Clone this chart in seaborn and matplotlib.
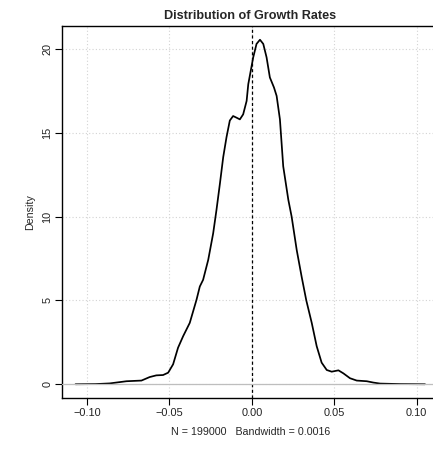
import matplotlib
matplotlib.use("Agg")
import matplotlib.pyplot as plt
import seaborn as sns
import pandas as pd

# density estimate (growth rate vs density)
growth = [-0.107, -0.095, -0.0863, -0.0761, -0.067, -0.062, -0.058, -0.0539,
          -0.0508, -0.0478, -0.0448, -0.0417, -0.0377, -0.0336, -0.0316,
          -0.0296, -0.0265, -0.0235, -0.0215, -0.0194, -0.0174, -0.0154,
          -0.0134, -0.0114, -0.0093, -0.0073, -0.0053, -0.0032, -0.0022,
          0.0008, 0.0028, 0.0049, 0.0069, 0.0089, 0.0109, 0.0134, 0.0150,
          0.0170, 0.0190, 0.0221, 0.0241, 0.0272, 0.0302, 0.0330, 0.0363,
          0.0393, 0.0423, 0.0454, 0.0484, 0.0525, 0.0555, 0.0595, 0.0636,
          0.0697, 0.0737, 0.0778, 0.0900, 0.1050]
density = [0.0, 0.01, 0.05, 0.18, 0.22, 0.43, 0.53, 0.55,
           0.69, 1.19, 2.18, 2.87, 3.66, 5.04, 5.83,
           6.23, 7.42, 9.0, 10.39, 11.97, 13.55, 14.74,
           15.73, 16.0, 15.9, 15.8, 16.1, 16.9, 17.9,
           19.5, 20.3, 20.55, 20.3, 19.5, 18.3, 17.7, 17.2,
           15.8, 13.0, 11.0, 10.0, 8.0, 6.4, 5.0, 3.66,
           2.27, 1.29, 0.85, 0.75, 0.83, 0.65, 0.36, 0.22,
           0.18, 0.1, 0.04, 0.01, 0.0]

x_ticks = [-0.10, -0.05, 0.00, 0.05, 0.10]
x_tick_labels = ["\u22120.10", "\u22120.05", "0.00", "0.05", "0.10"]
y_ticks = [0, 5, 10, 15, 20]

df = pd.DataFrame({"growth": growth, "density": density})

sns.set_theme(style="white")
plt.rcParams["font.family"] = ["Liberation Sans", "DejaVu Sans"]

fig = plt.figure(figsize=(4.33, 4.49), dpi=100)
ax = fig.add_axes([62 / 433, 1 - 398 / 449, (439 - 62) / 433, (398 - 26) / 449])

sns.lineplot(data=df, x="growth", y="density", ax=ax, color="black",
             linewidth=1.25, sort=False, estimator=None, zorder=3)
ax.axhline(0, color="#BEBEBE", linewidth=0.9, zorder=4)
ax.axvline(0, color="black", linewidth=0.9, linestyle=(0, (2.5, 2)), zorder=2)

ax.set_xlim(-0.1152, 0.1135)
ax.set_ylim(-0.82, 21.37)

ax.set_xticks(x_ticks)
ax.set_xticklabels(x_tick_labels)
ax.set_yticks(y_ticks)
ax.set_yticklabels([str(v) for v in y_ticks], rotation=90, va="center")

# dotted grid at the ticks, like R's grid()
for v in x_ticks:
    ax.axvline(v, color="#D3D3D3", linewidth=0.8, linestyle=(0, (1, 2)), zorder=1)
for v in y_ticks:
    ax.axhline(v, color="#D3D3D3", linewidth=0.8, linestyle=(0, (1, 2)), zorder=1)

ax.tick_params(axis="both", which="major", bottom=True, left=True,
               direction="out", length=5, width=0.8, color="black",
               labelsize=7.9, labelcolor="#222222")
ax.tick_params(axis="x", pad=2)
ax.tick_params(axis="y", pad=2)
for s in ax.spines.values():
    s.set_color("black")
    s.set_linewidth(1.0)

ax.set_xlabel("N = 199000   Bandwidth = 0.0016", fontsize=7.7, labelpad=7)
ax.set_ylabel("Density", fontsize=7.7, labelpad=5)
ax.set_title("Distribution of Growth Rates", fontsize=9.1, fontweight="bold", pad=5)

plt.savefig("out.png", dpi=100, facecolor="white")
plt.close()
